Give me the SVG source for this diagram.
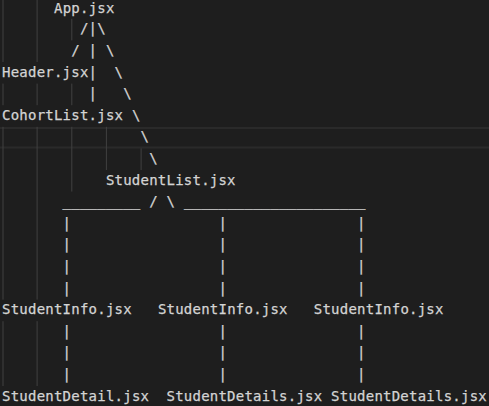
<svg xmlns="http://www.w3.org/2000/svg" width="489" height="406" viewBox="0 0 489 406">
<style>
  text { font-family: "DejaVu Sans Mono", "Liberation Mono", monospace; font-size: 14px; letter-spacing: 0.23px; fill: #d4d4d4; stroke: #d4d4d4; stroke-width: 0.25; white-space: pre; }
  .guide { stroke: #404040; stroke-width: 1; }
  .hl { fill: #2a2a2a; }
</style>
<rect x="0" y="0" width="489" height="406" fill="#1e1e1e"/>
<!-- current line highlight -->
<rect class="hl" x="0" y="127" width="489" height="2"/>
<rect class="hl" x="0" y="146.5" width="489" height="2"/>
<!-- indent guides -->
<g id="indent-guides">
  <line class="guide" x1="3" y1="0" x2="3" y2="62"/>
  <line class="guide" x1="3" y1="83.6" x2="3" y2="105.2"/>
  <line class="guide" x1="3" y1="126.8" x2="3" y2="299.6"/>
  <line class="guide" x1="3" y1="321.2" x2="3" y2="386"/>
  <line class="guide" x1="37.1" y1="0" x2="37.1" y2="62"/>
  <line class="guide" x1="37.1" y1="83.6" x2="37.1" y2="105.2"/>
  <line class="guide" x1="37.1" y1="126.8" x2="37.1" y2="299.6"/>
  <line class="guide" x1="37.1" y1="321.2" x2="37.1" y2="386"/>
  <line class="guide" x1="71.8" y1="18.8" x2="71.8" y2="40.4"/>
  <line class="guide" x1="71.8" y1="83.6" x2="71.8" y2="105.2"/>
  <line class="guide" x1="71.8" y1="126.8" x2="71.8" y2="191.6"/>
  <line class="guide" x1="106.4" y1="126.8" x2="106.4" y2="170"/>
  <line class="guide" x1="141.1" y1="148.4" x2="141.1" y2="170"/>
</g>
<g id="connectors">
  <text x="79.9" y="33.3">/|\</text>
  <text x="71.3" y="54.9">/</text>
  <text x="88.6" y="54.9">|</text>
  <text x="105.9" y="54.9">\</text>
  <text x="88.6" y="76.5">|</text>
  <text x="114.6" y="76.5">\</text>
  <text x="88.6" y="98.1">|</text>
  <text x="123.2" y="98.1">\</text>
  <text x="131.9" y="119.7">\</text>
  <text x="140.6" y="141.3">\</text>
  <text x="149.2" y="162.9">\</text>
  <text x="62.6" y="205.6">_________</text>
  <text x="149.2" y="206.1">/</text>
  <text x="166.5" y="206.1">\</text>
  <text x="183.9" y="205.6">_____________________</text>
  <g id="pipes">
    <text x="62.6" y="227.7">|</text><text x="218.5" y="227.7">|</text><text x="357.1" y="227.7">|</text>
    <text x="62.6" y="249.3">|</text><text x="218.5" y="249.3">|</text><text x="357.1" y="249.3">|</text>
    <text x="62.6" y="270.9">|</text><text x="218.5" y="270.9">|</text><text x="357.1" y="270.9">|</text>
    <text x="62.6" y="292.5">|</text><text x="218.5" y="292.5">|</text><text x="357.1" y="292.5">|</text>
    <text x="62.6" y="335.7">|</text><text x="218.5" y="335.7">|</text><text x="357.1" y="335.7">|</text>
    <text x="62.6" y="357.3">|</text><text x="218.5" y="357.3">|</text><text x="357.1" y="357.3">|</text>
    <text x="62.6" y="378.9">|</text><text x="218.5" y="378.9">|</text><text x="357.1" y="378.9">|</text>
  </g>
</g>
<g id="app"><text x="54" y="12.7">App.jsx</text></g>
<g id="header"><text x="2" y="76.5">Header.jsx</text></g>
<g id="cohortlist"><text x="2" y="119.7">CohortList.jsx</text></g>
<g id="studentlist"><text x="105.9" y="184.5">StudentList.jsx</text></g>
<g id="studentinfo-1"><text x="2" y="314.1">StudentInfo.jsx</text></g>
<g id="studentinfo-2"><text x="157.9" y="314.1">StudentInfo.jsx</text></g>
<g id="studentinfo-3"><text x="313.8" y="314.1">StudentInfo.jsx</text></g>
<g id="studentdetail-1"><text x="2" y="400.5">StudentDetail.jsx</text></g>
<g id="studentdetails-2"><text x="166.5" y="400.5">StudentDetails.jsx</text></g>
<g id="studentdetails-3"><text x="331.1" y="400.5">StudentDetails.jsx</text></g>
</svg>
